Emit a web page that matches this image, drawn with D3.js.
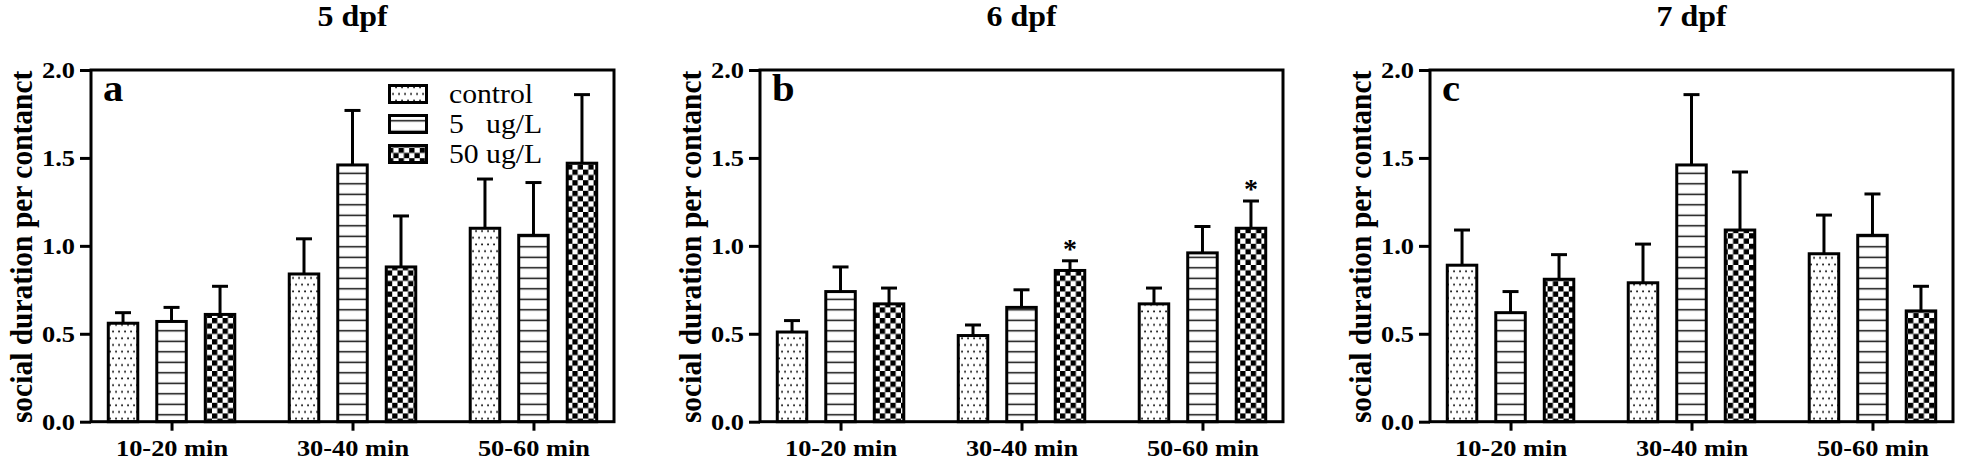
<!DOCTYPE html>
<html><head><meta charset="utf-8">
<script src="https://cdn.jsdelivr.net/npm/d3@7"></script>
<style>
body{margin:0;background:#fff}
svg{display:block}
text{font-family:"Liberation Serif","Times New Roman",serif;fill:#000}
</style>
</head><body>
<svg id="chart" width="1962" height="461"></svg>
<script>
// ---------------- data ----------------
const panelTitles = ["5 dpf", "6 dpf", "7 dpf"];
const panelLetters = ["a", "b", "c"];
const timeBins = ["10-20 min", "30-40 min", "50-60 min"];
const seriesNames = ["control", "5   ug/L", "50 ug/L"];
const yTicks = [0, 0.5, 1.0, 1.5, 2.0];
const yLabel = "social duration per contanct";
// rows: 5 dpf, 6 dpf, 7 dpf ; columns: time bins
const controlMean = [[0.56, 0.84, 1.10], [0.51, 0.49, 0.67], [0.89, 0.79, 0.955]];
const controlSem  = [[0.06, 0.20, 0.28], [0.065, 0.06, 0.09], [0.20, 0.22, 0.22]];
const low5Mean    = [[0.57, 1.46, 1.06], [0.74, 0.65, 0.96], [0.62, 1.46, 1.06]];
const low5Sem     = [[0.08, 0.31, 0.30], [0.14, 0.10, 0.15], [0.12, 0.40, 0.235]];
const high50Mean  = [[0.61, 0.88, 1.47], [0.67, 0.86, 1.10], [0.81, 1.09, 0.63]];
const high50Sem   = [[0.16, 0.29, 0.39], [0.09, 0.055, 0.155], [0.14, 0.33, 0.14]];
const high50Sig   = [[0, 0, 0], [0, 1, 1], [0, 0, 0]];

// ---------------- layout ----------------
const SX = 1.1; // horizontal stretch of the original figure's text
const panelLeft = [91, 760, 1430];
const plotW = 523, plotTop = 70, plotBottom = 421.7;
const barW = 29.5, capW = 16, SW = 3;
const patterns = ["pat-dots", "pat-lines", "pat-check"];
const seriesData = [
  {mean: controlMean, sem: controlSem, sig: null},
  {mean: low5Mean, sem: low5Sem, sig: null},
  {mean: high50Mean, sem: high50Sem, sig: high50Sig}
];

const svg = d3.select("#chart");
const defs = svg.append("defs");
// dotted
const pd = defs.append("pattern").attr("id", "pat-dots").attr("patternUnits", "userSpaceOnUse")
  .attr("width", 6).attr("height", 13.4);
pd.append("rect").attr("width", 6).attr("height", 13.4).attr("fill", "#fff");
pd.append("rect").attr("x", 1.2).attr("y", 2.4).attr("width", 1.7).attr("height", 1.7).attr("fill", "#000");
pd.append("rect").attr("x", 4.2).attr("y", 9.1).attr("width", 1.7).attr("height", 1.7).attr("fill", "#000");
// horizontal lines
const pl = defs.append("pattern").attr("id", "pat-lines").attr("patternUnits", "userSpaceOnUse")
  .attr("width", 10).attr("height", 10.5);
pl.append("rect").attr("width", 10).attr("height", 10.5).attr("fill", "#fff");
pl.append("rect").attr("y", 4.6).attr("width", 10).attr("height", 1.4).attr("fill", "#000");
// checkerboard
const pc = defs.append("pattern").attr("id", "pat-check").attr("patternUnits", "userSpaceOnUse")
  .attr("width", 10.6).attr("height", 10.6);
pc.append("rect").attr("width", 10.6).attr("height", 10.6).attr("fill", "#fff");
pc.append("rect").attr("width", 5.3).attr("height", 5.3).attr("fill", "#000");
pc.append("rect").attr("x", 5.3).attr("y", 5.3).attr("width", 5.3).attr("height", 5.3).attr("fill", "#000");

const y = d3.scaleLinear().domain([0, 2]).range([plotBottom, plotTop]);

panelTitles.forEach((title, p) => {
  const x0 = panelLeft[p];
  const g = svg.append("g");
  const x = d3.scalePoint().domain(timeBins).range([x0, x0 + plotW]).padding(0.445);
  const sub = d3.scalePoint().domain(seriesNames).range([-48.5, 48.5]);

  // title
  g.append("text").attr("transform", `translate(${x0 + plotW / 2},26) scale(${SX},1)`)
    .attr("text-anchor", "middle").attr("font-size", 29).attr("font-weight", "bold").text(title);

  // y label
  g.append("text").attr("transform", `translate(${x0 - 59},${(plotTop + plotBottom) / 2 + 1}) scale(${SX},1) rotate(-90)`)
    .attr("text-anchor", "middle").attr("font-size", 29.5).attr("font-weight", "bold").text(yLabel);

  // bars
  seriesData.forEach((s, k) => {
    const name = seriesNames[k];
    timeBins.forEach((bin, i) => {
      const m = s.mean[p][i], e = s.sem[p][i];
      const cx = x(bin) + sub(name);
      g.append("rect").attr("x", cx - barW / 2).attr("y", y(m))
        .attr("width", barW).attr("height", y(0) - y(m))
        .attr("fill", `url(#${patterns[k]})`).attr("stroke", "#000").attr("stroke-width", SW);
      g.append("line").attr("x1", cx).attr("x2", cx).attr("y1", y(m)).attr("y2", y(m + e))
        .attr("stroke", "#000").attr("stroke-width", SW);
      g.append("line").attr("x1", cx - capW / 2).attr("x2", cx + capW / 2).attr("y1", y(m + e)).attr("y2", y(m + e))
        .attr("stroke", "#000").attr("stroke-width", SW);
      if (s.sig && s.sig[p][i]) {
        g.append("text").attr("x", cx).attr("y", y(m + e) - 3).attr("text-anchor", "middle")
          .attr("font-size", 28).attr("font-weight", "bold").text("*");
      }
    });
  });

  // frame
  g.append("rect").attr("x", x0).attr("y", plotTop).attr("width", plotW).attr("height", plotBottom - plotTop)
    .attr("fill", "none").attr("stroke", "#000").attr("stroke-width", SW);

  // y axis
  const ya = g.append("g").attr("transform", `translate(${x0},0)`)
    .call(d3.axisLeft(y).tickValues(yTicks).tickFormat(d3.format(".1f")).tickSize(11).tickSizeOuter(0));
  ya.select(".domain").remove();
  ya.selectAll(".tick line").attr("stroke", "#000").attr("stroke-width", SW);
  ya.selectAll(".tick text").attr("x", -16 / SX).attr("transform", `scale(${SX},1)`)
    .attr("font-size", 24).attr("font-weight", "bold").attr("font-family", null).attr("fill", "#000");

  // x axis
  const xa = g.append("g").attr("transform", `translate(0,${plotBottom})`)
    .call(d3.axisBottom(x).tickSize(9).tickSizeOuter(0));
  xa.select(".domain").remove();
  xa.selectAll(".tick line").attr("stroke", "#000").attr("stroke-width", SW);
  xa.selectAll(".tick text").attr("y", 34).attr("dy", 0).attr("transform", `scale(${SX},1)`)
    .attr("font-size", 24).attr("font-weight", "bold").attr("font-family", null).attr("fill", "#000");

  // panel letter
  g.append("text").attr("transform", `translate(${x0 + 12},101) scale(${SX},1)`)
    .attr("font-size", 37).attr("font-weight", "bold").text(panelLetters[p]);

  // legend (panel a only)
  if (p === 0) {
    const lg = g.append("g").attr("transform", `translate(${x0 + 297},84)`);
    seriesNames.forEach((name, k) => {
      lg.append("rect").attr("x", 1.5).attr("y", k * 30 + 1.5).attr("width", 37).attr("height", 17)
        .attr("fill", `url(#${patterns[k]})`).attr("stroke", "#000").attr("stroke-width", SW);
      lg.append("text").attr("transform", `translate(61,${k * 30 + 19.3}) scale(${SX},1)`)
        .attr("font-size", 27).style("white-space", "pre").text(name);
    });
  }
});
</script>
</body></html>
